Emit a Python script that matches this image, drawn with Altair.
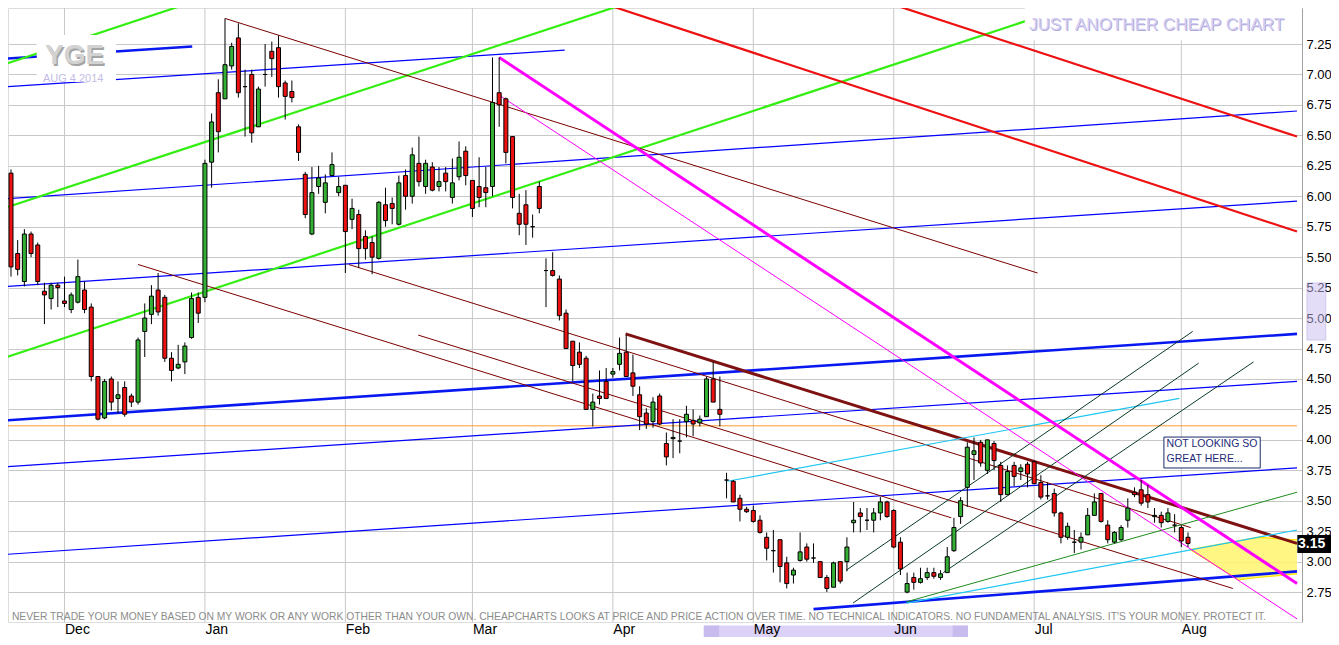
import altair as alt
import numpy as np
import pandas as pd

# ---- daily candles, bar 0 = 2013-11-19 ... bar 176 = 2014-08-04 ----
opens = [6.19,5.53,5.30,5.69,5.60,5.22,5.16,5.27,5.14,5.07,
         5.13,5.23,5.09,4.52,4.18,4.50,4.34,4.43,4.36,4.31,
         4.89,5.03,5.23,5.17,4.67,4.59,4.64,4.84,5.17,5.17,
         6.28,6.85,6.80,7.07,7.30,6.90,7.00,6.57,7.00,7.19,
         7.22,6.93,6.86,6.57,6.18,5.69,6.08,5.95,6.17,6.03,
         6.09,5.81,5.85,5.67,5.62,5.49,5.93,5.94,5.77,6.17,
         6.00,6.27,6.08,6.24,6.08,6.19,5.99,6.16,6.37,6.13,
         6.08,6.07,6.08,6.85,6.80,6.49,5.86,5.93,5.75,6.08,
         5.39,5.39,5.32,5.04,4.81,4.72,4.67,4.25,4.36,4.48,
         4.54,4.62,4.72,4.55,4.37,4.22,4.15,4.36,3.97,4.01,
         3.99,4.15,4.16,4.14,4.19,4.50,4.25,3.67,3.66,3.52,
         3.43,3.42,3.34,3.20,3.09,3.18,2.99,2.89,3.01,3.12,
         3.03,3.00,2.87,2.79,3.00,3.00,3.32,3.40,3.34,3.34,
         3.40,3.49,3.42,3.16,2.75,2.87,2.83,2.87,2.91,2.87,
         2.91,3.09,3.37,3.61,3.88,3.98,3.75,3.97,3.79,3.55,
         3.79,3.74,3.80,3.82,3.65,3.54,3.56,3.40,3.20,3.16,
         3.16,3.22,3.38,3.56,3.30,3.16,3.18,3.34,3.57,3.59,
         3.55,3.37,3.38,3.33,3.30,3.28,3.20]
highs = [6.22,5.64,5.73,5.71,5.62,5.29,5.29,5.29,5.34,5.21,
         5.48,5.30,5.12,4.52,4.50,4.52,4.48,4.48,4.38,4.84,
         5.12,5.27,5.37,5.19,4.72,4.78,4.80,5.21,5.21,6.30,
         6.68,6.96,7.46,7.26,7.42,7.04,7.04,6.90,7.25,7.27,
         7.32,6.95,6.95,6.59,6.20,6.24,6.25,6.18,6.36,6.16,
         6.09,5.98,5.89,5.72,5.67,5.96,6.07,5.99,6.17,6.22,
         6.40,6.49,6.30,6.28,6.24,6.24,6.31,6.45,6.41,6.13,
         6.32,6.24,7.14,7.14,6.81,6.49,6.02,6.05,5.85,6.12,
         5.49,5.54,5.35,5.07,4.81,4.80,4.69,4.38,4.57,4.59,
         4.59,4.84,4.86,4.70,4.44,4.26,4.35,4.38,4.06,4.17,
         4.17,4.28,4.25,4.20,4.52,4.64,4.52,3.73,3.67,3.55,
         3.45,3.46,3.38,3.24,3.26,3.18,3.04,2.95,3.24,3.15,
         3.15,3.00,2.89,3.00,3.00,3.20,3.49,3.44,3.44,3.44,
         3.53,3.50,3.43,3.20,2.91,2.91,2.95,2.95,2.95,2.93,
         3.12,3.36,3.53,3.98,4.02,4.00,4.00,3.99,3.82,3.79,
         3.82,3.80,3.82,3.83,3.71,3.65,3.60,3.41,3.32,3.26,
         3.24,3.44,3.56,3.56,3.34,3.25,3.30,3.52,3.61,3.67,
         3.63,3.44,3.41,3.44,3.39,3.30,3.24]
lows = [5.34,5.35,5.26,5.50,5.27,4.95,5.07,5.09,5.09,5.04,
        5.12,5.04,4.48,4.16,4.17,4.24,4.22,4.19,4.27,4.29,
        4.68,4.95,5.02,4.64,4.48,4.58,4.54,4.83,4.96,5.13,
        6.07,6.36,6.80,7.04,6.81,6.49,6.44,6.57,6.90,6.98,
        6.81,6.63,6.77,6.29,5.82,5.68,6.02,5.86,6.17,6.00,
        5.37,5.73,5.41,5.48,5.36,5.48,5.75,5.77,5.76,5.89,
        5.94,6.08,6.02,6.04,6.04,6.04,5.94,6.13,6.09,5.83,
        5.91,5.91,6.00,6.57,6.27,5.90,5.68,5.60,5.66,5.86,
        5.09,5.34,4.98,4.75,4.48,4.59,4.25,4.11,4.29,4.34,
        4.51,4.57,4.52,4.36,4.08,4.09,4.10,4.12,3.79,3.85,
        3.89,4.02,4.03,4.11,4.19,4.31,4.11,3.52,3.49,3.33,
        3.40,3.32,3.23,3.01,2.91,2.83,2.78,2.82,3.00,3.00,
        2.99,2.87,2.75,2.79,2.82,2.92,3.24,3.24,3.26,3.24,
        3.34,3.36,3.11,2.89,2.74,2.77,2.82,2.85,2.86,2.85,
        2.91,3.08,3.31,3.45,3.67,3.78,3.72,3.75,3.49,3.55,
        3.62,3.67,3.61,3.64,3.51,3.51,3.37,3.15,3.18,3.07,
        3.10,3.22,3.38,3.32,3.15,3.15,3.17,3.28,3.53,3.46,
        3.44,3.32,3.28,3.32,3.24,3.12,3.12]
closes = [5.42,5.40,5.69,5.53,5.30,5.19,5.27,5.25,5.12,5.19,
          5.34,5.07,4.52,4.17,4.48,4.31,4.37,4.21,4.31,4.82,
          5.00,5.18,5.05,4.67,4.57,4.62,4.77,5.16,5.04,6.27,
          6.61,6.53,7.08,7.23,6.85,6.90,6.52,6.88,7.00,7.13,
          6.90,6.82,6.81,6.36,5.85,6.03,6.15,6.11,6.26,6.08,
          5.71,5.90,5.57,5.57,5.50,5.95,5.80,5.90,6.11,6.00,
          6.34,6.12,6.27,6.05,6.12,6.12,6.11,6.32,6.17,5.90,
          5.99,6.03,6.77,6.75,6.36,5.99,5.77,5.77,5.75,5.90,
          5.39,5.35,5.02,4.75,4.61,4.62,4.25,4.31,4.34,4.34,
          4.56,4.71,4.52,4.44,4.19,4.13,4.31,4.13,3.86,4.02,
          3.99,4.21,4.13,4.17,4.50,4.31,4.21,3.67,3.49,3.43,
          3.41,3.33,3.24,3.11,3.09,2.96,2.82,2.93,3.08,3.02,
          3.03,2.87,2.78,2.99,2.84,3.12,3.34,3.37,3.34,3.40,
          3.49,3.37,3.12,2.94,2.82,2.83,2.86,2.91,2.88,2.90,
          3.04,3.28,3.50,3.94,3.91,3.81,4.00,3.83,3.55,3.74,
          3.70,3.77,3.72,3.64,3.53,3.54,3.40,3.20,3.29,3.16,
          3.20,3.38,3.49,3.33,3.18,3.24,3.28,3.44,3.55,3.48,
          3.49,3.38,3.32,3.40,3.30,3.17,3.15]

month_names = ["Dec", "Jan", "Feb", "Mar", "Apr", "May", "Jun", "Jul", "Aug"]
month_start_bar = [8, 29, 50, 69, 90, 111, 132, 153, 175]
price_ticks = [2.75, 3.00, 3.25, 3.50, 3.75, 4.00, 4.25, 4.50, 4.75, 5.00,
               5.25, 5.50, 5.75, 6.00, 6.25, 6.50, 6.75, 7.00, 7.25]
last_price = ["3.15"]

# ---- trendlines: (bar_start, price_start, bar_end, price_end) ----
lime_lines = [(-0.6, 7.09, 28.0, 7.61), (-0.6, 5.91, 93.5, 7.61), (-0.6, 4.68, 161.2, 7.61)]
red_lines = [(87.1, 7.61, 192.3, 5.71), (129.9, 7.61, 192.3, 6.49)]
blue_thin = [(-0.6, 6.90, 82.8, 7.20), (-0.6, 5.98, 192.3, 6.70), (-0.6, 5.26, 192.3, 5.96),
             (-0.6, 3.78, 192.3, 4.48), (-0.6, 3.06, 192.3, 3.77)]
blue_thick = [(-0.6, 7.13, 27.1, 7.23), (-0.6, 4.16, 192.3, 4.87), (120.0, 2.61, 192.3, 2.92)]
maroon_thin = [(32.0, 7.46, 153.5, 5.37), (19.0, 5.44, 140.6, 3.36),
               (50.5, 5.44, 176.4, 3.28), (60.9, 4.86, 182.7, 2.78)]
maroon_thick = [(91.9, 4.87, 192.3, 3.15)]
magenta_thick = [(73.0, 7.14, 192.3, 2.82)]
magenta_thin = [(73.0, 6.83, 192.3, 2.53)]
cyan_lines = [(107.1, 3.66, 174.7, 4.34), (133.9, 2.66, 192.3, 3.26)]
green_thin = [(133.9, 2.67, 192.3, 3.57)]
dark_green = [(124.9, 2.93, 176.7, 4.89), (125.9, 2.66, 177.6, 4.63), (139.4, 2.91, 185.8, 4.64)]
orange_level = [(-0.6, 4.115, 192.3, 4.115)]

# yellow target zone
zone_bar = [176.3, 183.6, 186.4, 192.3]
zone_top = [3.10, 3.17, 3.20, 3.18]
zone_bot = [3.10, 2.85, 2.87, 2.90]

# ---- scales / axes ----
xscale = alt.Scale(domain=[0.3, 192.3], nice=False, zero=False)
yscale = alt.Scale(domain=[2.5045, 7.5456], nice=False, zero=False)
label_expr = "".join(f"datum.value == {b} ? '{m}' : " for b, m in zip(month_start_bar, month_names)) + "''"
xaxis = alt.Axis(values=month_start_bar, labelExpr=label_expr, labelAlign="left", labelBaseline="top",
                 labelPadding=0, labelFontSize=14, labelColor="#000000", labelFont="Liberation Sans",
                 ticks=False, domain=False, grid=False, zindex=2, title=None,
                 labelFlush=False, labelOverlap=False, labelBound=False)
yaxis = alt.Axis(orient="right", values=price_ticks, format=".2f", labelFontSize=13,
                 labelColor="#000000", labelFont="Liberation Sans", ticks=False, domain=True,
                 domainColor="#A0A0A0", grid=True, gridColor="#C8C8C8", gridWidth=1,
                 labelPadding=4, title=None, zindex=0, labelOverlap=False, labelFlush=False)


def X(f):
    return alt.X(f"{f}:Q", scale=xscale, axis=xaxis)


def Y(f):
    return alt.Y(f"{f}:Q", scale=yscale, axis=yaxis)


def seg_layer(lines, color, width):
    df = pd.DataFrame(lines, columns=["b1", "p1", "b2", "p2"])
    return alt.Chart(df).mark_rule(color=color, strokeWidth=width, clip=True).encode(
        x=X("b1"), y=Y("p1"), x2="b2", y2="p2")


def box_layer(b1, b2, p1, p2, **kw):
    df = pd.DataFrame({"b1": [b1], "b2": [b2], "p1": [p1], "p2": [p2]})
    return alt.Chart(df).mark_rect(**kw).encode(x=X("b1"), x2="b2", y=Y("p1"), y2="p2")


def text_layer(bar, price, text, **kw):
    df = pd.DataFrame({"bar": [bar], "price": [price], "text": [text]})
    return alt.Chart(df).mark_text(**kw).encode(x=X("bar"), y=Y("price"), text="text:N")


# ---- candles ----
cd = pd.DataFrame({"bar": np.arange(len(opens)), "open": opens, "high": highs,
                   "low": lows, "close": closes})
cd["dir"] = np.where(cd["close"] > cd["open"], "up", np.where(cd["close"] < cd["open"], "down", "flat"))

grid_v = alt.Chart(pd.DataFrame({"bar": month_start_bar})).mark_rule(
    color="#C8C8C8", strokeWidth=1).encode(x=X("bar"))

zone_df = pd.DataFrame({"bar": zone_bar, "top": zone_top, "bot": zone_bot})
zone = alt.Chart(zone_df).mark_area(color="#FFF56E", opacity=0.85, clip=True).encode(
    x=X("bar"), y=Y("top"), y2="bot")
zone_top_line = alt.Chart(zone_df).mark_line(color="#FFE400", strokeWidth=1.2, clip=True).encode(
    x=X("bar"), y=Y("top"))
zone_bot_line = alt.Chart(zone_df).mark_line(color="#FFE400", strokeWidth=1.2, clip=True).encode(
    x=X("bar"), y=Y("bot"))

wicks = alt.Chart(cd).mark_rule(color="#000000", strokeWidth=1, clip=True).encode(
    x=X("bar"), y=Y("low"), y2="high")
bodies = alt.Chart(cd).mark_bar(width=4, stroke="#000000", strokeWidth=1, clip=True).encode(
    x=X("bar"), y=Y("open"), y2="close",
    fill=alt.Fill("dir:N", scale=alt.Scale(domain=["up", "down", "flat"],
                                           range=["#34B034", "#EE1111", "#000000"]), legend=None))

disclaimer = ("NEVER TRADE YOUR MONEY BASED ON MY WORK OR ANY WORK OTHER THAN YOUR OWN. "
              "CHEAPCHARTS LOOKS AT PRICE AND PRICE ACTION OVER TIME. NO TECHNICAL INDICATORS. "
              "NO FUNDAMENTAL ANALYSIS. IT'S YOUR MONEY. PROTECT IT.")

layers = [
    grid_v,
    zone, zone_top_line, zone_bot_line,
    seg_layer(orange_level, "#FF9A2E", 1),
    seg_layer(blue_thin, "#0000FF", 1.2),
    seg_layer(blue_thick, "#0818F0", 2.6),
    seg_layer(lime_lines, "#33EE11", 2.2),
    seg_layer(red_lines, "#EE1111", 2.2),
    seg_layer(maroon_thin, "#7A0000", 1),
    seg_layer(maroon_thick, "#7E1212", 3),
    seg_layer(cyan_lines, "#1EC6F2", 1.2),
    seg_layer(green_thin, "#1E8C1E", 1),
    seg_layer(dark_green, "#0B3A28", 1),
    seg_layer(magenta_thin, "#FF00FF", 1),
    seg_layer(magenta_thick, "#FF00FF", 3),
    wicks, bodies,
    # watermark boxes & texts
    box_layer(3.85, 15.7, 7.324, 6.938, fill="#FFFFFF"),
    text_layer(9.5, 7.15, "YGE", font="Liberation Sans", fontSize=28, fontWeight="bold",
               color="#A4A4A4", dx=1.5, dy=1.5),
    text_layer(9.5, 7.15, "YGE", font="Liberation Sans", fontSize=28, fontWeight="bold",
               color="#D2D2D2"),
    text_layer(9.3, 6.965, "AUG 4 2014", font="Liberation Sans", fontSize=11, color="#C4BCE6"),
    box_layer(151.6, 193.0, 7.62, 7.28, fill="#FFFFFF", clip=True),
    text_layer(171.3, 7.41, "JUST ANOTHER CHEAP CHART", font="Liberation Sans", fontSize=17,
               color="#B0A8D8", dx=1, dy=1),
    text_layer(171.3, 7.41, "JUST ANOTHER CHEAP CHART", font="Liberation Sans", fontSize=17,
               color="#D4CEF2"),
    box_layer(172.4, 186.8, 4.023, 3.769, fill="#FFFFFF", stroke="#1A2A6A", strokeWidth=1),
    text_layer(172.8, 3.966, "NOT LOOKING SO", font="Liberation Sans", fontSize=10.5,
               color="#1E2A78", align="left"),
    text_layer(172.8, 3.843, "GREAT HERE...", font="Liberation Sans", fontSize=10.5,
               color="#1E2A78", align="left"),
    text_layer(93.9, 2.545, disclaimer, font="Liberation Sans", fontSize=10.3, color="#8C8C8C"),
    # right side widgets
    box_layer(193.8, 196.6, 5.288, 4.82, fill="#C8BCF0", opacity=0.5, stroke="#A090D8"),
    box_layer(192.35, 198.5, 3.219, 3.071, fill="#000000"),
    text_layer(194.5, 3.145, last_price[0], font="Liberation Sans", fontSize=14, fontWeight="bold",
               color="#FFFFFF"),
    # bottom scroll band
    box_layer(103.6, 143.1, 2.475, 2.30, fill="#DCD2F7"),
    box_layer(103.6, 105.9, 2.475, 2.30, fill="#C8BCEE"),
    box_layer(140.8, 143.1, 2.475, 2.30, fill="#C8BCEE"),
]

chart = alt.layer(*layers).properties(
    width=1294, height=614,
    autosize=alt.AutoSizeParams(type="none"),
    padding={"left": 0, "top": 0, "right": 29, "bottom": 15},
).configure_view(stroke=None).configure(background="#FFFFFF")

chart.save("out.html", embed_options={"renderer": "svg", "actions": False})
